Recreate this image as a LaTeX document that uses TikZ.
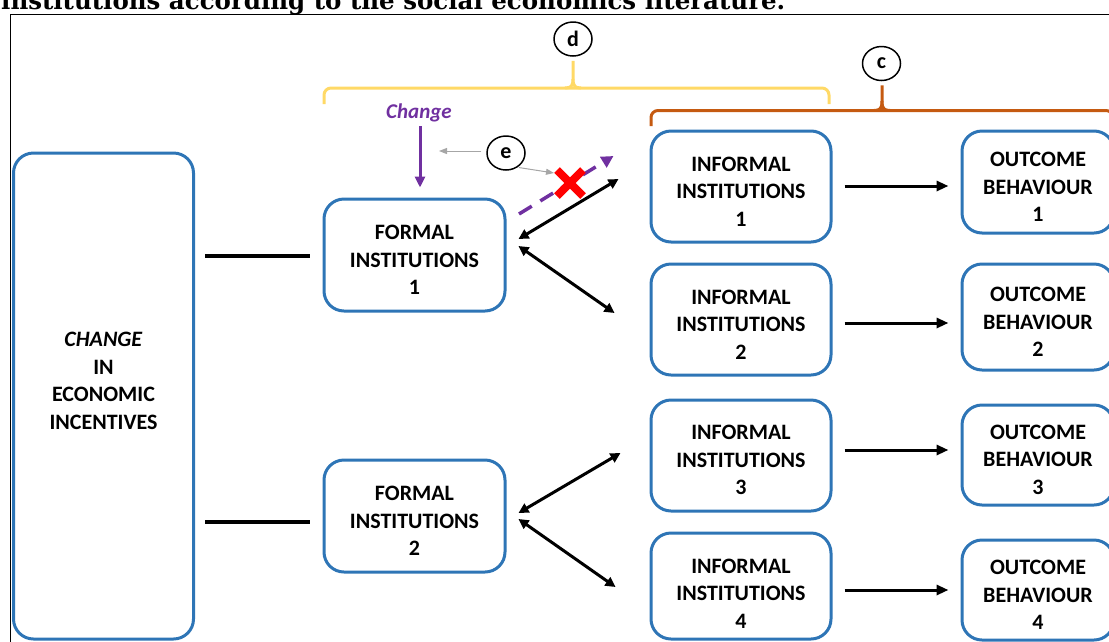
\documentclass[tikz,border=0pt]{standalone}
\usepackage{fontspec}
\setmainfont{Carlito}
\newfontfamily\titlefont{DejaVu Serif}
\usetikzlibrary{arrows.meta,calc,shapes.geometric}
\definecolor{boxblue}{HTML}{2E75B6}
\definecolor{bracey}{HTML}{FFD966}
\definecolor{braceo}{HTML}{C55A11}
\definecolor{purp}{HTML}{7030A0}
\definecolor{grayarr}{HTML}{A6A6A6}
\newcommand\topstrut{\rule{0pt}{24pt}}
\begin{document}
\begin{tikzpicture}[x=1pt,y=-1pt,
  box/.style={draw=boxblue,line width=3pt,rounded corners=20pt,fill=white,align=center,
    font=\fontsize{22}{27.5}\selectfont\bfseries,inner sep=0pt},
  plainline/.style={line width=3.5pt,black},
  dbl/.style={line width=3pt,black,{Triangle[length=10pt,width=10pt]}-{Triangle[length=10pt,width=10pt]}},
  arr/.style={line width=3pt,black,-{Triangle[length=12pt,width=10pt]}},
  circ/.style={ellipse,draw=black,line width=1.5pt,minimum width=38pt,minimum height=34pt,inner sep=0pt,
    font=\fontsize{22}{26}\selectfont\bfseries},
  brace/.style={line width=3pt,rounded corners=7pt},
  tipbrace/.style={line width=3pt},
  grayarrow/.style={grayarr,line width=1pt,-{Triangle[length=8pt,width=6pt]}}
]
\useasboundingbox (0,0) rectangle (1109,641);
\clip (0,0) rectangle (1109,641);

% title (cropped at the top, as in the reference)
\node[anchor=base west,inner sep=0pt,font=\titlefont\bfseries\fontsize{24.5}{28}\selectfont] (title) at (1,9)
  {institutions according to the social economics literature.};

% frame
\draw[line width=1.5pt] (10.5,700) |- (1200,14.5);

% left big box
\node[box,minimum width=180pt,minimum height=486pt] (L) at (103.5,396) {};
\node[align=center,inner sep=0pt,font=\fontsize{22}{27.5}\selectfont\bfseries] (Ltext) at (L.center |- 0,381)
  {\textit{CHANGE}\\IN\\ECONOMIC\\INCENTIVES};

% formal institutions
\node[box,minimum width=181pt,minimum height=112pt] (f1) at (414.5,255) {\topstrut FORMAL\\INSTITUTIONS\\1};
\node[box,minimum width=181pt,minimum height=112pt] (f2) at (414.5,516) {\topstrut FORMAL\\INSTITUTIONS\\2};

% informal institutions
\node[box,minimum width=180pt,minimum height=111pt] (i1) at (741,186.5) {\topstrut INFORMAL\\INSTITUTIONS\\1};
\node[box,minimum width=180pt,minimum height=111pt] (i2) at (741,319.5) {\topstrut INFORMAL\\INSTITUTIONS\\2};
\node[box,minimum width=180pt,minimum height=111pt] (i3) at (741,455.5) {\topstrut INFORMAL\\INSTITUTIONS\\3};
\node[box,minimum width=180pt,minimum height=106pt] (i4) at (741,586) {\rule{0pt}{29pt}INFORMAL\\INSTITUTIONS\\4};

% outcome behaviour
\node[box,minimum width=152pt,minimum height=102pt] (o1) at (1038,182) {\topstrut OUTCOME\\BEHAVIOUR\\1};
\node[box,minimum width=152pt,minimum height=106pt] (o2) at (1038,317) {\topstrut OUTCOME\\BEHAVIOUR\\2};
\node[box,minimum width=152pt,minimum height=100pt] (o3) at (1038,455) {\topstrut OUTCOME\\BEHAVIOUR\\3};
\node[box,minimum width=152pt,minimum height=100pt] (o4) at (1038,590) {\topstrut OUTCOME\\BEHAVIOUR\\4};

% plain lines from big box
\draw[plainline] ($(L.east |- f1.west)+(10,1)$) -- ($(f1.west)+(-13,1)$);
\draw[plainline] ($(L.east |- f2.west)+(10,6)$) -- ($(f2.west)+(-13,6)$);

% double arrows
\draw[dbl] ($(f1.east)+(12,-16)$) -- ($(i1.west)+(-31,-7.5)$);
\draw[dbl] ($(f1.east)+(12,-9)$) -- ($(i2.west)+(-35,-6.5)$);
\draw[dbl] ($(f2.east)+(12,-3)$) -- ($(i3.west)+(-29,-2.5)$);
\draw[dbl] ($(f2.east)+(12,3)$) -- ($(i4.west)+(-34,1)$);

% informal -> outcome
\draw[arr] ($(i1.east)+(12,-0.5)$) -- ($(o1.west |- i1.east)+(-12,-0.5)$);
\draw[arr] ($(i2.east)+(12,3.5)$) -- ($(o2.west |- i2.east)+(-12,3.5)$);
\draw[arr] ($(i3.east)+(12,-5.5)$) -- ($(o3.west |- i3.east)+(-12,-5.5)$);
\draw[arr] ($(i4.east)+(12,4)$) -- ($(o4.west |- i4.east)+(-12,4)$);

% change label and arrow
\node[inner sep=0pt,text=purp,font=\fontsize{21}{25}\selectfont\bfseries\itshape] (chg) at (419,113) {Change};
\draw[purp,line width=3pt,-{Triangle[length=11pt,width=10pt]}] ($(chg.south)+(1,4)$) -- ($(f1.north)+(5.5,-10)$);

% purple dashed arrow, blocked
\draw[purp,line width=3.5pt,dash pattern=on 15pt off 10pt,-{Triangle[length=12pt,width=12pt]}]
  ($(f1.east)+(12.5,-41)$) -- ($(i1.west)+(-36,-30.5)$);
\coordinate (xc) at (570,183);
\draw[red,line width=8pt] ($(xc)+(-13,-13)$) -- ($(xc)+(13,13)$);
\draw[red,line width=8pt] ($(xc)+(13,-13)$) -- ($(xc)+(-13,13)$);

% circle labels
\node[circ] (e) at (506,153) {e};
\node[circ] (d) at (573,39) {d};
\node[circ] (c) at (881.5,63.5) {c};

% gray arrows from e
\coordinate (ea) at (439,151);
\coordinate (eb) at (554,173);
\draw[grayarrow] ($(e.west)+(-5,-2)$) -- (ea);
\draw[grayarrow] ($(e.south east)+(-1,2)$) -- (eb);

% yellow brace (d)
\draw[bracey,brace] (324,104) -- (324,88) -- (829,88) -- (829,104);
\draw[bracey,tipbrace] (565,88) .. controls (571,88) and (573,86) .. (573,79) -- ($(d.south)+(0,4)$);
\draw[bracey,tipbrace] (581,88) .. controls (575,88) and (573,86) .. (573,79);

% orange brace (c)
\draw[braceo,brace] (651,126) -- (651,110.5) -- (1113,110.5) -- (1113,126);
\draw[braceo,tipbrace] (874,110.5) .. controls (880,110.5) and (882,108.5) .. (882,101) -- ($(c.south)+(0.5,4)$);
\draw[braceo,tipbrace] (890,110.5) .. controls (884,110.5) and (882,108.5) .. (882,101);
\end{tikzpicture}
\end{document}
